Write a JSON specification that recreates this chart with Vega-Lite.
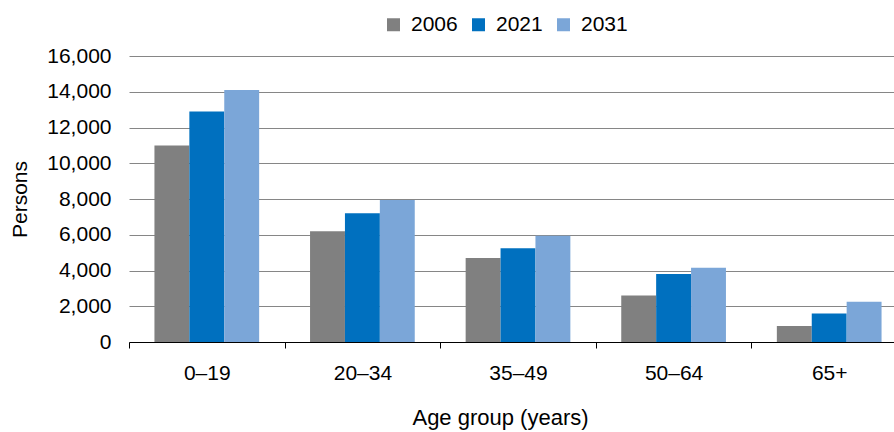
{
  "$schema": "https://vega.github.io/schema/vega-lite/v6.json",
  "width": 778,
  "height": 286,
  "autosize": {"type": "none"},
  "padding": {"left": 129, "top": 56, "right": 0, "bottom": 90},
  "background": "white",
  "config": {
    "font": "Liberation Sans",
    "view": {"stroke": null},
    "axis": {"labelFont": "Liberation Sans", "titleFont": "Liberation Sans", "labelFontSize": 21, "titleFontSize": 21, "titleFontWeight": "normal", "labelColor": "#000000", "titleColor": "#000000"},
    "legend": {"labelFont": "Liberation Sans", "labelFontSize": 21, "labelColor": "#000000"}
  },
  "data": {
    "values": [
      {"age": "0–19", "year": "2006", "persons": 11000},
      {"age": "0–19", "year": "2021", "persons": 12900},
      {"age": "0–19", "year": "2031", "persons": 14100},
      {"age": "20–34", "year": "2006", "persons": 6200},
      {"age": "20–34", "year": "2021", "persons": 7200},
      {"age": "20–34", "year": "2031", "persons": 7950},
      {"age": "35–49", "year": "2006", "persons": 4700},
      {"age": "35–49", "year": "2021", "persons": 5250},
      {"age": "35–49", "year": "2031", "persons": 5950},
      {"age": "50–64", "year": "2006", "persons": 2600},
      {"age": "50–64", "year": "2021", "persons": 3800},
      {"age": "50–64", "year": "2031", "persons": 4150},
      {"age": "65+", "year": "2006", "persons": 900},
      {"age": "65+", "year": "2021", "persons": 1600},
      {"age": "65+", "year": "2031", "persons": 2250}
    ]
  },
  "mark": {"type": "bar"},
  "encoding": {
    "x": {
      "field": "age",
      "type": "nominal",
      "sort": ["0–19", "20–34", "35–49", "50–64", "65+"],
      "scale": {"paddingInner": 0, "paddingOuter": 0},
      "axis": {
        "title": "Age group (years)",
        "titleFontSize": 22,
        "labelAngle": 0,
        "tickBand": "extent",
        "domainColor": "#000000",
        "domainWidth": 1,
        "tickColor": "#000000",
        "tickSize": 6,
        "labelPadding": 14,
        "titlePadding": 24,
        "titleX": 371,
        "grid": false
      }
    },
    "xOffset": {
      "field": "year",
      "type": "nominal",
      "sort": ["2006", "2021", "2031"],
      "scale": {"paddingInner": 0, "paddingOuter": 0.729}
    },
    "y": {
      "field": "persons",
      "type": "quantitative",
      "scale": {"domain": [0, 16000], "nice": false},
      "axis": {
        "title": "Persons",
        "values": [0, 2000, 4000, 6000, 8000, 10000, 12000, 14000, 16000],
        "format": ",d",
        "domain": false,
        "ticks": false,
        "tickSize": 0,
        "labelPadding": 18,
        "grid": true,
        "gridColor": "#868686",
        "gridWidth": 1,
        "titlePadding": 16.5
      }
    },
    "color": {
      "field": "year",
      "type": "nominal",
      "sort": ["2006", "2021", "2031"],
      "scale": {"domain": ["2006", "2021", "2031"], "range": ["#808080", "#0070BF", "#7BA6D8"]},
      "legend": {
        "title": null,
        "orient": "none",
        "legendX": 254,
        "legendY": -42,
        "direction": "horizontal",
        "symbolType": "square",
        "symbolSize": 169,
        "symbolStrokeWidth": 0,
        "labelOffset": 7,
        "columnPadding": 10,
        "padding": 0
      }
    }
  }
}
